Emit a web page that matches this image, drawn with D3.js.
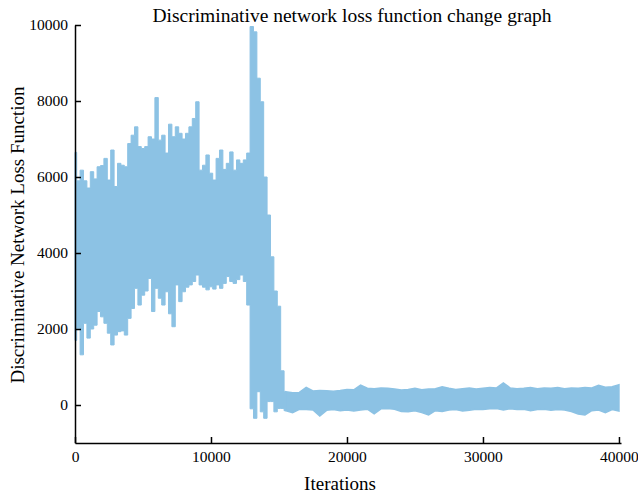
<!DOCTYPE html>
<html>
<head>
<meta charset="utf-8">
<script src="https://cdn.jsdelivr.net/npm/d3@7"></script>
<style>
  body { margin: 0; background: #fff; }
  svg { display: block; font-family: "Liberation Serif", "Times New Roman", serif; }
  .axis path, .axis line { stroke: #000; stroke-width: 1.5; }
  .axis text { font-family: "Liberation Serif", serif; font-size: 15.5px; fill: #000; }
</style>
</head>
<body>
<script>
// envelope of the loss curve (iteration, top, bottom)
const iterations = [
    0, 250, 500, 750, 1000, 1250, 1500, 1750, 2000, 2250, 2500, 2750, 3000, 3250, 3500, 3750,
    4000, 4250, 4500, 4750, 5000, 5250, 5500, 5750, 6000, 6250, 6500, 6750, 7000, 7250, 7500, 7750,
    8000, 8250, 8500, 8750, 9000, 9250, 9500, 9750, 10000, 10250, 10500, 10750, 11000, 11250, 11500, 11750,
    12000, 12250, 12500, 12750, 13000, 13250, 13500, 13750, 14000, 14250, 14500, 14750, 15000, 15250,
    15500, 16000, 16500, 17000, 17500, 18000, 18500, 19000, 19500, 20000, 20500, 21000, 21500, 22000,
    22500, 23000, 23500, 24000, 24500, 25000, 25500, 26000, 26500, 27000, 27500, 28000, 28500, 29000,
    29500, 30000, 30500, 31000, 31500, 32000, 32500, 33000, 33500, 34000, 34500, 35000, 35500, 36000,
    36500, 37000, 37500, 38000, 38500, 39000, 39500, 40000
]
const lossUpper = [
    6650, 5900, 6180, 5900, 5710, 6140, 5950, 6270, 6300, 6490, 5920, 6710, 5750, 6360, 6310, 6270,
    6880, 7100, 7320, 6800, 6750, 6800, 7060, 7000, 8090, 6970, 7100, 6630, 7390, 7060, 7320, 7150,
    7000, 7150, 7320, 7540, 7980, 6180, 6310, 6580, 6100, 5920, 6490, 6710, 6200, 6360, 6660, 6180,
    6450, 6360, 6450, 6630, 9960, 9820, 8600, 7980, 6000, 5000, 3900, 3000, 2600, 900,
    350, 320, 330, 465, 370, 380, 375, 360, 380, 410, 400, 525, 440, 430,
    445, 440, 420, 395, 410, 440, 400, 420, 430, 480, 440, 410, 430, 450,
    420, 440, 460, 450, 580, 450, 430, 440, 460, 430, 450, 440, 460, 430,
    450, 440, 460, 450, 520, 470, 480, 530
]
const lossLower = [
    1700, 2020, 1320, 2150, 1760, 2000, 2100, 2460, 2320, 2150, 1890, 1580, 1840, 1930, 1950, 1840,
    2280, 2540, 3070, 2630, 2890, 3000, 3330, 2460, 3070, 2810, 2630, 2980, 2400, 2060, 3160, 2720,
    2980, 3100, 3160, 3250, 3420, 3160, 3100, 3030, 3110, 3050, 3160, 3070, 3200, 3380, 3250, 3200,
    3300, 3420, 3250, 2630, -100, -350, 350, -180, -350, 90, 90, -180, -90, -90,
    -150, -200, -115, -120, -130, -290, -140, -120, -150, -130, -160, -130, -110, -230,
    -100, -90, -110, -170, -180, -150, -200, -260, -150, -170, -130, -120, -160, -140,
    -110, -120, -100, -90, -130, -100, -120, -110, -150, -120, -110, -140, -120, -130,
    -170, -240, -260, -150, -130, -200, -120, -160
]
const xTicks = [0, 10000, 20000, 30000, 40000]
const yTicks = [0, 2000, 4000, 6000, 8000, 10000]

const w = 638
const h = 495
const bandColor = '#8cc2e4'

const xScale = d3.scaleLinear()
    .domain([0, 40150])
    .range([75, 621])

const yScale = d3.scaleLinear()
    .domain([-1000, 10000])
    .range([443, 25])

const svg = d3.select('body')
    .append('svg')
    .attr('width', w)
    .attr('height', h)

const rows = iterations.map((it, i) => ({ it: it, hi: lossUpper[i], lo: lossLower[i] }))

// the unstable phase is jagged, the converged phase is a thin even band
const early = rows.filter(d => d.it <= 15500)
const late = rows.filter(d => d.it >= 15500)

const stepBand = d3.area()
    .x(d => xScale(d.it))
    .y0(d => yScale(d.lo))
    .y1(d => yScale(d.hi))
    .curve(d3.curveStep)

const flatBand = d3.area()
    .x(d => xScale(d.it))
    .y0(d => yScale(d.lo))
    .y1(d => yScale(d.hi))

svg.append('path')
    .datum(early)
    .attr('d', stepBand)
    .attr('fill', bandColor)
    .attr('stroke', bandColor)
    .attr('stroke-width', 1)

svg.append('path')
    .datum(late)
    .attr('d', flatBand)
    .attr('fill', bandColor)
    .attr('stroke', bandColor)
    .attr('stroke-width', 1.5)

// axes, ticks point inwards
svg.append('g')
    .attr('class', 'axis')
    .attr('transform', `translate(0,${yScale(-1000)})`)
    .call(d3.axisBottom(xScale).tickValues(xTicks).tickFormat(d3.format('d'))
        .tickSize(-6).tickSizeOuter(0).tickPadding(8))

svg.append('g')
    .attr('class', 'axis')
    .attr('transform', `translate(${xScale(0)},0)`)
    .call(d3.axisLeft(yScale).tickValues(yTicks).tickFormat(d3.format('d'))
        .tickSize(-6).tickSizeOuter(0).tickPadding(7))

// title
svg.append('text')
    .attr('x', 352)
    .attr('y', 22)
    .attr('text-anchor', 'middle')
    .style('font-size', '19.5px')
    .text('Discriminative network loss function change graph')

// x label
svg.append('text')
    .attr('x', 340)
    .attr('y', 490)
    .attr('text-anchor', 'middle')
    .style('font-size', '19px')
    .text('Iterations')

// y label
svg.append('text')
    .attr('transform', 'translate(24,235) rotate(-90)')
    .attr('text-anchor', 'middle')
    .style('font-size', '19px')
    .text('Discriminative Network Loss Function')
</script>
</body>
</html>
